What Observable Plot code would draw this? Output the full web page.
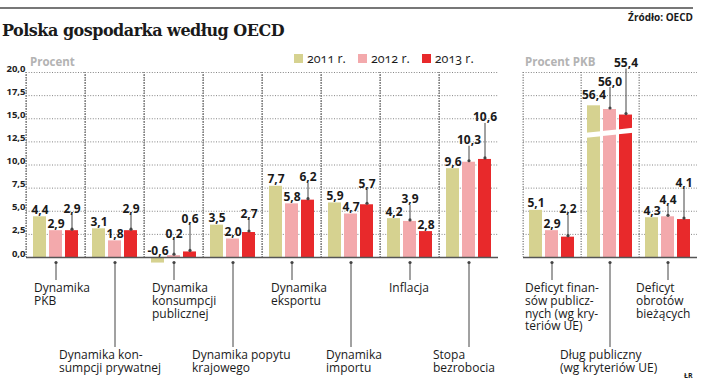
<!DOCTYPE html>
<html><head><meta charset="utf-8">
<script src="https://cdn.jsdelivr.net/npm/d3@7"></script>
<script src="https://cdn.jsdelivr.net/npm/@observablehq/plot@0.6"></script>
<style>
body{margin:0;background:#fff;}
#wrap{position:relative;width:716px;height:388px;overflow:hidden;font-family:"Open Sans",sans-serif;color:#1a1a1a;}
.abs{position:absolute;white-space:nowrap;}
.sw{display:inline-block;width:9px;height:9px;vertical-align:0px;margin-right:4px;}
</style></head><body><div id="wrap"></div>
<script>
// ---------- data ----------
const title = "Polska gospodarka według OECD";
const source = "Źródło: OECD";
const credit = "ŁR";
const unitLeft = "Procent";
const unitRight = "Procent PKB";
const years = ["2011 r.", "2012 r.", "2013 r."];
const groupsLeft = ["Dynamika\nPKB", "Dynamika kon-\nsumpcji prywatnej", "Dynamika\nkonsumpcji\npublicznej", "Dynamika popytu\nkrajowego", "Dynamika\neksportu", "Dynamika\nimportu", "Inflacja", "Stopa\nbezrobocia"];
const left2011 = [4.4, 3.1, -0.6, 3.5, 7.7, 5.9, 4.2, 9.6];
const left2012 = [2.9, 1.8, 0.2, 2.0, 5.8, 4.7, 3.9, 10.3];
const left2013 = [2.9, 2.9, 0.6, 2.7, 6.2, 5.7, 2.8, 10.6];
const groupsRight = ["Deficyt finan-\nsów publicz-\nnych (wg kry-\nteriów UE)", "Dług publiczny\n(wg kryteriów UE)", "Deficyt\nobrotów\nbieżących"];
const right2011 = [5.1, 56.4, 4.3];
const right2012 = [2.9, 56.0, 4.4];
const right2013 = [2.2, 55.4, 4.1];
const yTicks = [0, 2.5, 5, 7.5, 10, 12.5, 15, 17.5, 20];

// ---------- styling / layout ----------
const colors = ["#d6d290", "#f3a9ac", "#e8292b"];
const breakOffset = 40;   // values above the axis are drawn with this amount cut out
const breakAt = 13.3;     // where the cut is shown
const liftLeft = [[0,0,15],[0,0,15],[0,15,26],[0,0,12],[0,0,16],[0,0,14],[0,15,0],[0,15,35]];
const liftRight = [[0,0,21],[4,21,45],[0,10,30]];
const catDxLeft = [-22,-56,-22,-41,-21,-25,-21,-36];
const catDxRight = [-27,-50,-32];
const Y0 = 257, Y20 = 72, H = 388;
const fmt = v => v.toFixed(1).replace(".", ",");
const grid = {stroke: "#858585", strokeOpacity: 1, strokeDasharray: "1,1.6", strokeWidth: 1};

function panel({groups, series, lifts, catDx, width, marginLeft, marginRight, yAxis, withBreak}) {
  const ppu = (Y0 - Y20) / 20;
  const rows = [];
  groups.forEach((g, i) => series.forEach((s, j) => {
    const v = s[i];
    rows.push({group: g, year: years[j], value: v, disp: v > 20 ? v - breakOffset : v, lift: lifts[i][j]});
  }));
  const labelY = d => Math.max(d.disp, 0) + d.lift / ppu;
  const led = rows.filter(d => d.lift >= 8);
  const step = (width - marginLeft - marginRight) / groups.length;
  const mid = () => years[1];
  const zero = () => 0;
  const marks = [
    Plot.gridY(yTicks, grid),
    Plot.gridFx(groups.slice(1), {...grid, dx: -step / 2})
  ];
  if (yAxis) marks.push(Plot.axisY(yTicks, {label: null, tickSize: 0, tickPadding: 1, tickFormat: fmt, fontWeight: "bold", fontSize: 9.5, dy: -4, fill: "#222"}));
  marks.push(
    Plot.barY(rows, {fx: "group", x: "year", y: "disp", fill: "year"}),
    Plot.ruleY([0], {stroke: "#555", strokeWidth: 1.4})
  );
  if (withBreak) {
    const big = rows.filter(d => d.value > 20);
    marks.push(Plot.tickY(big, {fx: "group", x: "year", y: () => breakAt, stroke: "#fffffe", strokeWidth: 5}));
  }
  marks.push(
    Plot.ruleX(led, {fx: "group", x: "year", y1: labelY, y2: "disp", insetTop: -1, insetBottom: 1, stroke: "#444", strokeWidth: 1}),
    Plot.dot(led, {fx: "group", x: "year", y: "disp", dy: -1.5, r: 1.6, fill: "#444"}),
    Plot.text(rows, {fx: "group", x: "year", y: labelY, text: d => fmt(d.value), lineAnchor: "bottom", dy: -3, fontWeight: "bold", fontSize: 12, fill: "#1a1a1a"})
  );
  const upper = groups.filter((g, i) => i % 2 === 0);
  const lower = groups.filter((g, i) => i % 2 === 1);
  marks.push(
    Plot.ruleX(upper, {fx: d => d, x: mid, y1: zero, y2: zero, insetTop: 5, insetBottom: -23, stroke: "#444"}),
    Plot.ruleX(lower, {fx: d => d, x: mid, y1: zero, y2: zero, insetTop: 5, insetBottom: -90, stroke: "#444"}),
    Plot.dot(groups, {fx: d => d, x: mid, y: zero, dy: 5, r: 1.6, fill: "#444"})
  );
  groups.forEach((g, i) => {
    marks.push(Plot.text([g], {fx: d => d, x: mid, y: zero, text: d => d, dx: catDx[i], dy: i % 2 ? 93 : 26,
      textAnchor: "start", lineAnchor: "top", fontSize: 12, lineHeight: 1.05, fill: "#1a1a1a"}));
  });
  const svg = Plot.plot({
    width, height: H, marginLeft, marginRight, marginTop: Y20, marginBottom: H - Y0,
    style: {background: "transparent", overflow: "visible", fontFamily: "Open Sans"},
    fx: {domain: groups, padding: 0, axis: null},
    x: {domain: years, paddingInner: 0.18, paddingOuter: 0.34, axis: null},
    y: {domain: [0, 20], axis: null},
    color: {domain: years, range: colors},
    marks
  });
  if (withBreak) {
    const k = 5 / 47;
    svg.querySelectorAll('g[aria-label="tick"]').forEach(gEl => {
      const lines = [...gEl.querySelectorAll("line")];
      if (!lines.length) return;
      const x0 = (+lines[0].getAttribute("x1") + +lines[0].getAttribute("x2")) / 2;
      lines.forEach(l => {
        const x1 = +l.getAttribute("x1") - 1, x2 = +l.getAttribute("x2") + 1;
        const y = +(l.getAttribute("y1") ?? 0);
        l.setAttribute("x1", x1); l.setAttribute("x2", x2);
        l.setAttribute("y1", y - k * (x1 - x0));
        l.setAttribute("y2", y - k * (x2 - x0));
      });
    });
  }
  return svg;
}

const wrap = document.getElementById("wrap");
const leftSvg = panel({groups: groupsLeft, series: [left2011, left2012, left2013], lifts: liftLeft, catDx: catDxLeft,
  width: 505, marginLeft: 24, marginRight: 5, yAxis: true, withBreak: false});
const rightSvg = panel({groups: groupsRight, series: [right2011, right2012, right2013], lifts: liftRight, catDx: catDxRight,
  width: 200, marginLeft: 17, marginRight: 7, yAxis: false, withBreak: true});
[[leftSvg, 0], [rightSvg, 505]].forEach(([s, x]) => {
  s.style.position = "absolute"; s.style.left = x + "px"; s.style.top = "0px";
  wrap.appendChild(s);
});

function addText(txt, css) {
  const d = document.createElement("div");
  d.className = "abs";
  d.textContent = txt;
  Object.assign(d.style, css);
  wrap.appendChild(d);
  return d;
}
const rule = document.createElement("div");
Object.assign(rule.style, {position: "absolute", left: "0px", top: "7px", width: "693px", height: "2px", background: "#777"});
wrap.appendChild(rule);
addText(source, {right: "23px", top: "12px", fontSize: "10px", lineHeight: "10px", fontWeight: "bold"});
addText(title, {left: "2px", top: "23px", fontFamily: "'DejaVu Serif', serif", fontWeight: "bold", fontSize: "16px", lineHeight: "16px", letterSpacing: "-0.5px"});
addText(unitLeft, {left: "30px", top: "56px", fontSize: "11.5px", lineHeight: "11.5px", fontWeight: "bold", color: "#b3b3b3"});
addText(unitRight, {left: "525px", top: "56px", fontSize: "11.5px", lineHeight: "11.5px", fontWeight: "bold", color: "#b3b3b3"});
addText(credit, {left: "684px", top: "372px", fontSize: "7px", lineHeight: "7px", fontWeight: "bold"});
const leg = document.createElement("div");
leg.className = "abs";
Object.assign(leg.style, {left: "294px", top: "52px", fontSize: "12.5px", lineHeight: "13px", fontVariantNumeric: "oldstyle-nums", background: "#fff"});
years.forEach((y, i) => {
  const item = document.createElement("span");
  item.style.marginRight = "12px";
  item.innerHTML = `<span class="sw" style="background:${colors[i]}"></span>`;
  item.appendChild(document.createTextNode(y));
  leg.appendChild(item);
});
wrap.appendChild(leg);
</script></body></html>
